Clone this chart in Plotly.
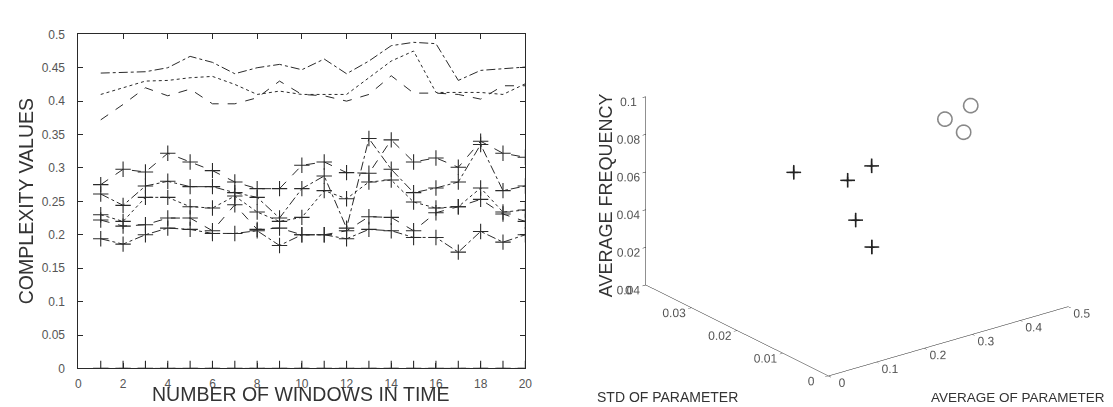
import plotly.graph_objects as go

# ---------------- data: left panel ----------------
windows = list(range(1, 21))

upper_a = [0.442, 0.443, 0.444, 0.450, 0.467, 0.458, 0.441, 0.450, 0.455, 0.447,
           0.463, 0.441, 0.460, 0.483, 0.488, 0.486, 0.431, 0.446, 0.448, 0.451]
upper_b = [0.410, 0.420, 0.430, 0.431, 0.435, 0.437, 0.425, 0.410, 0.415, 0.410,
           0.410, 0.410, 0.435, 0.460, 0.475, 0.413, 0.413, 0.413, 0.410, 0.426]
upper_c = [0.372, 0.395, 0.420, 0.408, 0.418, 0.396, 0.396, 0.405, 0.430, 0.410,
           0.408, 0.400, 0.410, 0.438, 0.412, 0.412, 0.410, 0.403, 0.423, 0.423]

lower_1 = [0.275, 0.298, 0.294, 0.322, 0.309, 0.296, 0.279, 0.269, 0.269, 0.304,
           0.309, 0.293, 0.292, 0.342, 0.309, 0.315, 0.301, 0.340, 0.322, 0.316]
lower_2 = [0.261, 0.244, 0.273, 0.280, 0.272, 0.272, 0.263, 0.256, 0.225, 0.269,
           0.288, 0.210, 0.344, 0.298, 0.263, 0.270, 0.279, 0.335, 0.266, 0.273]
lower_3 = [0.230, 0.220, 0.256, 0.256, 0.242, 0.240, 0.258, 0.234, 0.220, 0.226,
           0.266, 0.254, 0.279, 0.282, 0.249, 0.240, 0.242, 0.270, 0.234, 0.237]
lower_4 = [0.222, 0.213, 0.215, 0.225, 0.225, 0.206, 0.245, 0.208, 0.210, 0.200,
           0.200, 0.206, 0.227, 0.226, 0.206, 0.233, 0.242, 0.253, 0.231, 0.220]
lower_5 = [0.194, 0.186, 0.200, 0.210, 0.208, 0.202, 0.202, 0.206, 0.184, 0.200,
           0.200, 0.194, 0.208, 0.206, 0.196, 0.196, 0.174, 0.205, 0.189, 0.200]
baseline = [0.0] * 20

x_ticks = [0, 2, 4, 6, 8, 10, 12, 14, 16, 18, 20]
y_ticks = [0, 0.05, 0.1, 0.15, 0.2, 0.25, 0.3, 0.35, 0.4, 0.45, 0.5]
y_tick_text = ["0", "0.05", "0.1", "0.15", "0.2", "0.25", "0.3", "0.35", "0.4", "0.45", "0.5"]

# ---------------- data: right panel (3D) ----------------
cross_avg = [0.25, 0.27, 0.30, 0.24, 0.21]
cross_std = [0.0339, 0.0242, 0.0221, 0.0193, 0.0126]
cross_freq = [0.049, 0.055, 0.063, 0.042, 0.038]

circ_avg = [0.44, 0.45, 0.42]
circ_std = [0.0208, 0.0162, 0.0146]
circ_freq = [0.079, 0.091, 0.081]

avg_ticks = [0, 0.1, 0.2, 0.3, 0.4, 0.5]
std_ticks = [0, 0.01, 0.02, 0.03, 0.04]
freq_ticks = [0, 0.02, 0.04, 0.06, 0.08, 0.1]

INK = "#2a2a2a"
TICKFONT = dict(family="Liberation Sans, Arial", size=12, color="#555")
TICKFONT3D = dict(family="Liberation Sans, Arial", size=12, color="#555")
TITLEFONT = dict(family="Liberation Sans, Arial", size=19.5, color="#333")

fig = go.Figure()

for vals, dash in [(upper_a, "dashdot"), (upper_b, "dot"), (upper_c, "dash")]:
    fig.add_trace(go.Scatter(x=windows, y=vals, mode="lines",
                             line=dict(color=INK, width=1, dash=dash),
                             showlegend=False, xaxis="x", yaxis="y"))

for vals, dash in [(lower_1, "dash"), (lower_2, "dashdot"), (lower_3, "dot"),
                   (lower_4, "dash"), (lower_5, "dashdot"), (baseline, "dash")]:
    fig.add_trace(go.Scatter(x=windows, y=vals, mode="lines+markers",
                             line=dict(color=INK, width=1, dash=dash),
                             marker=dict(symbol="cross-thin", size=11,
                                         line=dict(width=1.1, color=INK)),
                             showlegend=False, xaxis="x", yaxis="y"))

fig.add_trace(go.Scatter3d(x=cross_avg, y=cross_std, z=cross_freq, mode="markers",
                           marker=dict(symbol="cross", size=8, color="#222"),
                           showlegend=False, scene="scene"))
fig.add_trace(go.Scatter3d(x=circ_avg, y=circ_std, z=circ_freq, mode="markers",
                           marker=dict(symbol="circle-open", size=9, color="#888"),
                           showlegend=False, scene="scene"))

axis3d = dict(showgrid=False, showbackground=False, zeroline=False, showspikes=False,
              showline=True, linecolor="#222", linewidth=1, ticks="outside",
              ticklen=4, tickcolor="#222", title=dict(text=""), tickfont=TICKFONT3D,
              tickangle=0)

fig.update_layout(
    width=1113, height=407,
    margin=dict(l=0, r=0, t=0, b=0),
    paper_bgcolor="white", plot_bgcolor="white",
    xaxis=dict(domain=[68 / 1113, 519 / 1113], range=[0, 20], tickvals=x_ticks,
               ticks="inside", ticklen=5, tickcolor=INK, showline=True, linecolor=INK,
               linewidth=1, mirror="ticks", showgrid=False, zeroline=False,
               tickfont=TICKFONT, ticklabelstandoff=4),
    yaxis=dict(domain=[41 / 407, 387 / 407], range=[0, 0.5], tickvals=y_ticks,
               ticktext=y_tick_text, ticks="inside", ticklen=5, tickcolor=INK,
               showline=True, linecolor=INK, linewidth=1, mirror="ticks",
               showgrid=False, zeroline=False, tickfont=TICKFONT, ticklabelstandoff=10),
    scene=dict(
        domain=dict(x=[0.534, 1.0], y=[0.024, 1.0]),
        xaxis=dict(axis3d, range=[0, 0.5], tickvals=avg_ticks,
                   ticktext=["0", "0.1", "0.2", "0.3", "0.4", "0.5"]),
        yaxis=dict(axis3d, range=[0, 0.04], tickvals=std_ticks,
                   ticktext=["0", "0.01", "0.02", "0.03", "0.04"]),
        zaxis=dict(axis3d, range=[0, 0.1], tickvals=freq_ticks,
                   ticktext=["0", "0.02", "0.04", "0.06", "0.08", "0.1"]),
        aspectmode="manual", aspectratio=dict(x=1.57, y=1.57, z=1.06),
        camera=dict(eye=dict(x=-0.909, y=-1.193, z=0.585),
                    up=dict(x=0, y=0, z=1), center=dict(x=0, y=0, z=-0.03),
                    projection=dict(type="orthographic")),
        bgcolor="white",
    ),
    annotations=[
        dict(text="COMPLEXITY VALUES", x=16 / 1113, y=(407 - 193) / 407, xref="paper",
             yref="paper", showarrow=False, textangle=-90, xanchor="center",
             yanchor="middle", font=TITLEFONT),
        dict(text="NUMBER OF WINDOWS IN TIME", x=293 / 1113, y=(407 - 393) / 407,
             xref="paper", yref="paper", showarrow=False, xanchor="center",
             yanchor="middle", font=TITLEFONT),
        dict(text="AVERAGE FREQUENCY", x=600 / 1113, y=(407 - 187) / 407, xref="paper",
             yref="paper", showarrow=False, textangle=-90, xanchor="center",
             yanchor="middle", font=dict(family="Liberation Sans, Arial", size=18, color="#333")),
        dict(text="STD OF PARAMETER", x=662 / 1113, y=(407 - 396) / 407, xref="paper",
             yref="paper", showarrow=False, xanchor="center", yanchor="middle",
             font=dict(family="Liberation Sans, Arial", size=14, color="#333")),
        dict(text="AVERAGE OF PARAMETER", x=1016 / 1113, y=(407 - 396) / 407,
             xref="paper", yref="paper", showarrow=False, xanchor="center",
             yanchor="middle",
             font=dict(family="Liberation Sans, Arial", size=13.5, color="#333")),
    ],
)

fig.write_html("out.html")
